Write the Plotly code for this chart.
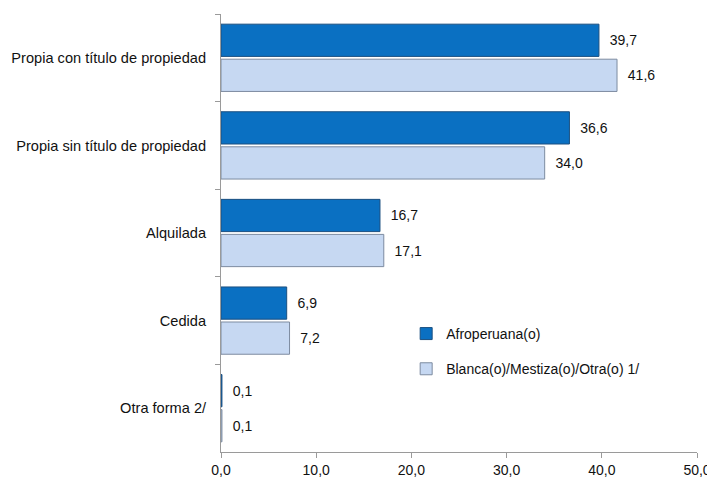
import plotly.graph_objects as go

# tenencia de la vivienda (%)
categorias = ['Propia con título de propiedad', 'Propia sin título de propiedad',
              'Alquilada', 'Cedida', 'Otra forma 2/']
afroperuana = [39.7, 36.6, 16.7, 6.9, 0.1]
blanca_mestiza = [41.6, 34.0, 17.1, 7.2, 0.1]

fig = go.Figure()

fig.add_trace(go.Bar(
    y=categorias, x=afroperuana, orientation='h', name='Afroperuana(o)',
    legendgroup='a',
    marker=dict(color='#0A70C2', line=dict(color='#1B4F80', width=1)),
    texttemplate='  %{x:.1f}', textposition='outside', cliponaxis=False,
    textfont=dict(size=14, color='#111111'),
))
fig.add_trace(go.Bar(
    y=categorias, x=blanca_mestiza, orientation='h', name='Blanca(o)/Mestiza(o)/Otra(o) 1/',
    legendgroup='b',
    marker=dict(color='#C6D8F2', line=dict(color='#7D8BA0', width=1)),
    texttemplate='  %{x:.1f}', textposition='outside', cliponaxis=False,
    textfont=dict(size=14, color='#111111'),
))

# the page body has an 8px margin, so the figure is a bit smaller than the window
fig.update_layout(
    width=707, height=477,
    margin=dict(l=213, r=18, t=6, b=33, autoexpand=False),
    barmode='group', bargap=0.2, bargroupgap=0.08,
    separators=',.',
    plot_bgcolor='white', paper_bgcolor='white',
    font=dict(family='Liberation Sans, Arial, sans-serif', size=14, color='#111111'),
    showlegend=True,
    legend=dict(x=0.389, y=0.306, xanchor='left', yanchor='top',
                traceorder='grouped', bgcolor='rgba(0,0,0,0)',
                font=dict(size=14), tracegroupgap=14),
)

fig.update_xaxes(range=[0, 50], dtick=10, tickformat='.1f', automargin=False,
                 showgrid=False, zeroline=False,
                 showline=True, linecolor='#9A9A9A', linewidth=1,
                 ticks='outside', ticklen=5, tickcolor='#9A9A9A')
fig.update_yaxes(autorange='reversed', showgrid=False, automargin=False,
                 showline=True, linecolor='#9A9A9A', linewidth=1,
                 ticks='outside', ticklen=5, tickcolor='#9A9A9A',
                 tickson='boundaries', ticklabelstandoff=11,
                 tickfont=dict(size=14.6))

fig.write_html('out.html')
